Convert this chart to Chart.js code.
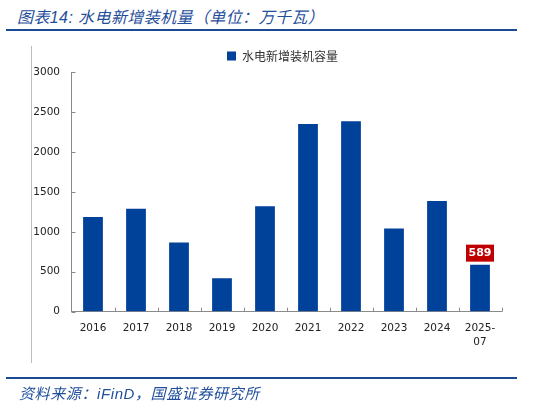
<!DOCTYPE html>
<html>
<head>
<meta charset="utf-8">
<script src="https://cdn.jsdelivr.net/npm/chart.js@4.4.1/dist/chart.umd.min.js"></script>
<style>
  html, body { margin: 0; padding: 0; background: #fff; }
  #page { position: relative; width: 533px; height: 404px; overflow: hidden; }
  #chartBox { position: absolute; left: 0; top: 0; width: 533px; height: 404px; }
  .title {
    position: absolute; left: 17px; top: 4px; line-height: 17px;
    font: italic 16px "Liberation Sans", "Noto Sans CJK SC", sans-serif; letter-spacing: 0.4px;
    color: #1f4e9b; white-space: nowrap;
  }
  .rule { position: absolute; left: 6px; width: 511px; height: 2px; background: #1a4a93; }
  .vline { position: absolute; left: 31px; top: 46px; width: 1px; height: 317px; background: #bdbdbd; }
  .source {
    position: absolute; left: 19px; top: 382px; line-height: 16px;
    font: italic 15px "Liberation Sans", "Noto Sans CJK SC", sans-serif; letter-spacing: 0.6px;
    color: #1f4e9b; white-space: nowrap;
  }
</style>
</head>
<body>
<div id="page">
  <div class="title">图表14: 水电新增装机量（单位：万千瓦）</div>
  <div class="rule" style="top:29px"></div>
  <div class="vline"></div>
  <div id="chartBox"><canvas id="chart" width="533" height="404"></canvas></div>
  <div class="rule" style="top:377px"></div>
  <div class="source">资料来源：iFinD，国盛证券研究所</div>
</div>
<script>
// values (万千瓦)
const years = ["2016", "2017", "2018", "2019", "2020", "2021", "2022", "2023", "2024", ["2025-", "07"]];
const added = [1185, 1290, 865, 420, 1320, 2350, 2385, 1040, 1385, 589];
const seriesName = "水电新增装机容量";
const yTicks = [0, 500, 1000, 1500, 2000, 2500, 3000];

const BAR_BLUE = "#00419a";
const AXIS_GREY = "#8a8a8a";

// small inward tick marks on both axes, plus the red callout on the last bar
const decorations = {
  id: "decorations",
  afterLayout(chart) {
    // centre the legend over the plot area rather than the whole canvas
    const lg = chart.legend;
    const shift = 31.5;
    lg.left += shift;
    lg.width -= shift;
  },
  afterDatasetsDraw(chart) {
    const { ctx, scales: { x, y }, chartArea } = chart;
    ctx.save();
    ctx.strokeStyle = AXIS_GREY;
    ctx.lineWidth = 1;
    ctx.beginPath();
    yTicks.forEach((v) => {
      const py = Math.round(y.getPixelForValue(v)) + 0.5;
      ctx.moveTo(chartArea.left, py);
      ctx.lineTo(chartArea.left + 4, py);
    });
    const step = x.getPixelForValue(1) - x.getPixelForValue(0);
    for (let i = 1; i <= years.length; i++) {
      const px = Math.round(x.getPixelForValue(i) - step / 2) + 0.5;
      ctx.moveTo(px, chartArea.bottom);
      ctx.lineTo(px, chartArea.bottom - 4);
    }
    ctx.stroke();

    const bar = chart.getDatasetMeta(0).data[added.length - 1];
    const w = 28, h = 17;
    const bx = bar.x - w / 2, by = bar.y - 3 - h;
    ctx.fillStyle = "#c00000";
    ctx.fillRect(bx, by, w, h);
    ctx.fillStyle = "#fff";
    ctx.font = "bold 11px 'DejaVu Sans', sans-serif";
    ctx.textAlign = "center";
    ctx.textBaseline = "middle";
    ctx.fillText(String(added[added.length - 1]), bar.x, by + h / 2 + 0.5);
    ctx.restore();
  },
};

new Chart(document.getElementById("chart"), {
  type: "bar",
  data: {
    labels: years,
    datasets: [{
      label: seriesName,
      data: added,
      backgroundColor: BAR_BLUE,
      borderWidth: 0,
      categoryPercentage: 1,
      barPercentage: 0.46,
    }],
  },
  options: {
    responsive: false,
    animation: false,
    layout: { padding: { left: 32, right: 31.5, top: 46, bottom: 0 } },
    plugins: {
      tooltip: { enabled: false },
      legend: {
        position: "top",
        afterFit(legend) { legend.height = 26; },
        labels: {
          boxWidth: 9, boxHeight: 9, padding: 4,
          color: "#333",
          font: { family: "'Noto Sans CJK SC', sans-serif", size: 12 },
        },
      },
    },
    scales: {
      x: {
        afterFit(scale) { scale.height = 92.3; },
        grid: { display: true, drawOnChartArea: false, drawTicks: false, offset: true },
        border: { color: AXIS_GREY, width: 1 },
        ticks: {
          color: "#222", padding: 9, maxRotation: 0, autoSkip: false,
          font: { family: "'DejaVu Sans', sans-serif", size: 10.5, lineHeight: 1.4 },
        },
      },
      y: {
        min: 0, max: 3000,
        afterFit(scale) { scale.width = 39.5; },
        grid: { display: true, drawOnChartArea: false, drawTicks: false },
        border: { color: AXIS_GREY, width: 1 },
        ticks: {
          stepSize: 500, color: "#222", padding: 11.5,
          callback: (v) => String(v),
          font: { family: "'DejaVu Sans', sans-serif", size: 10.5 },
        },
      },
    },
  },
  plugins: [decorations],
});
</script>
</body>
</html>
